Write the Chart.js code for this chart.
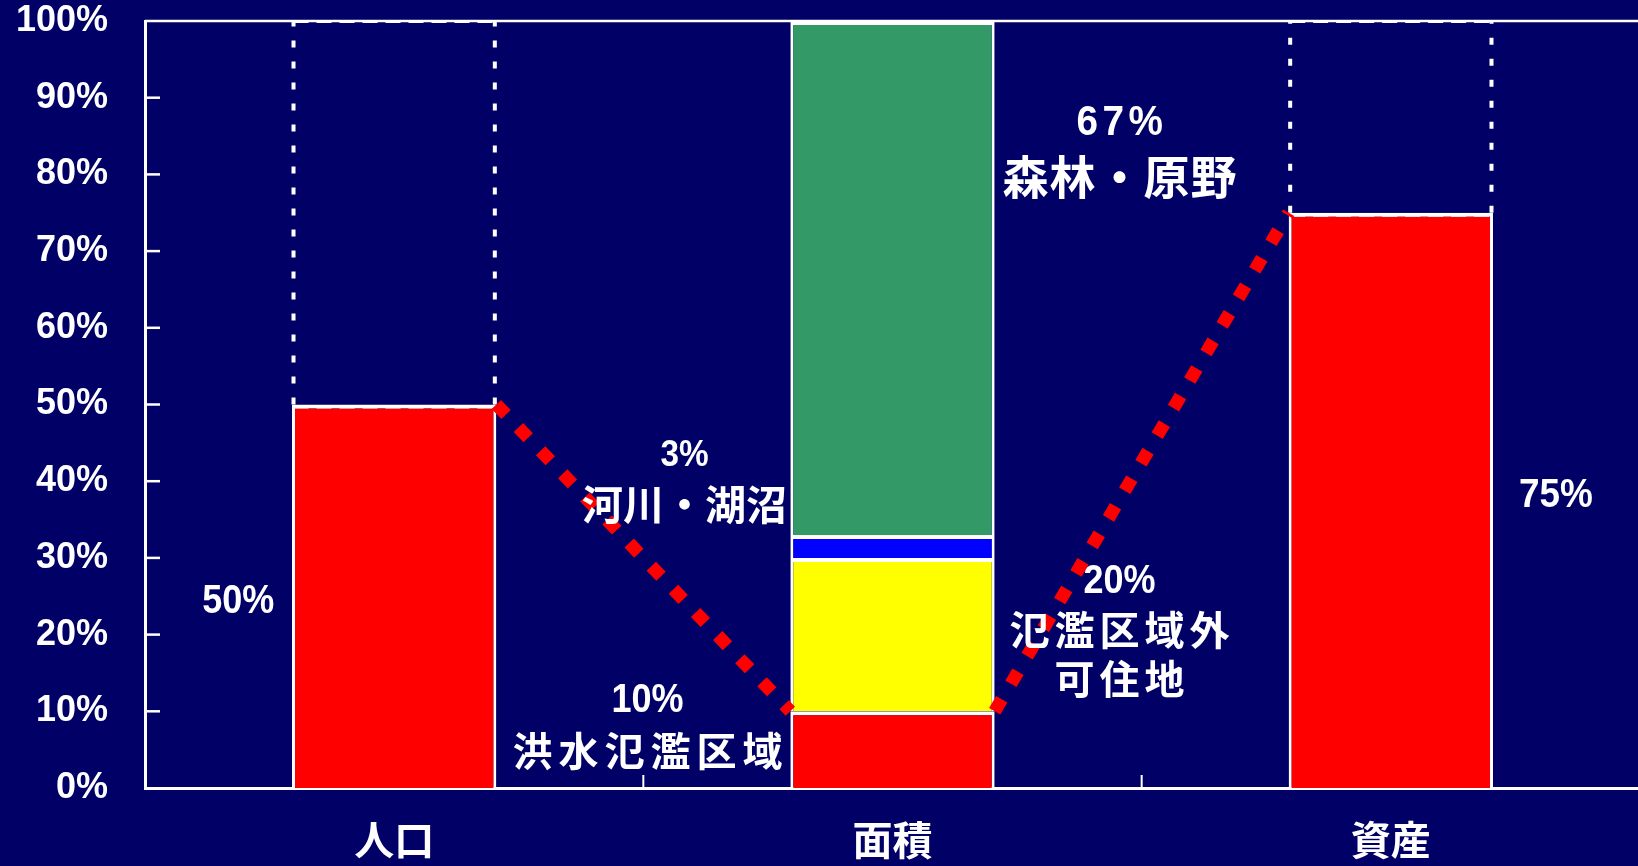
<!DOCTYPE html>
<html>
<head>
<meta charset="utf-8">
<script src="https://cdn.jsdelivr.net/npm/chart.js@4/dist/chart.umd.min.js"></script>
<style>
  html, body { margin: 0; padding: 0; background: #000066; overflow: hidden; }
  #wrap { position: relative; width: 1640px; height: 900px; margin-top: -34px; }
</style>
</head>
<body>
<div id="wrap"><canvas id="chart"></canvas></div>
<script>
// ---- data -------------------------------------------------------------
const categories  = ['人口', '面積', '資産'];
const floodZone   = [50, 10, 75];       // 洪水氾濫区域
const outsideZone = [null, 20, null];   // 氾濫区域外可住地
const waterBodies = [null, 3, null];    // 河川・湖沼
const forestLand  = [null, 67, null];   // 森林・原野
const remainder   = [50, null, 25];     // 区域外の残り（点線枠）
const yTickValues = [0, 10, 20, 30, 40, 50, 60, 70, 80, 90, 100];

const segmentNames = [
  ['洪水氾濫区域'],
  ['氾濫区域外', '可住地'],
  ['河川・湖沼'],
  ['森林・原野']
];

// ---- styling ----------------------------------------------------------
const NAVY = '#000066';
const WHITE = '#ffffff';
const DIGIT_FONT = '"Liberation Sans", Arial, sans-serif';
const CJK_FONT = '"Noto Sans CJK JP", "Noto Sans CJK SC", sans-serif';

const segBorder = { top: 4, left: 3, right: 3, bottom: 0 };

// callouts: which bar segment they describe, and where their text block sits
const callouts = [
  { ds: 0, idx: 0, dx: -156, yv: 24.3, num: 40, numSp: 0 },
  { ds: 0, idx: 2, dx: 165,  yv: 38.1, num: 41, numSp: 0 },
  { ds: 0, idx: 1, dx: -245, yv: 11.3, num: 40, numSp: 0, name: 40, nameSp: 6, gaps: [49] },
  { ds: 2, idx: 1, dx: -208, yv: 43.3, num: 37, numSp: 0, name: 41, nameSp: 0, gaps: [48.5] },
  { ds: 3, idx: 1, dx: 227,  yv: 86.7, num: 43, numSp: 5, name: 46, nameSp: 1, gaps: [54] },
  { ds: 1, idx: 1, dx: 227,  yv: 26.8, num: 40, numSp: 0, name: 40, nameSp: 5, gaps: [47.5, 49] }
];

function drawText(ctx, text, x, y, font, sx, spacing) {
  ctx.save();
  ctx.font = font;
  ctx.letterSpacing = spacing + 'px';
  ctx.translate(x + spacing / 2, y);
  ctx.scale(sx, 1);
  ctx.textAlign = 'center';
  ctx.textBaseline = 'middle';
  ctx.fillStyle = WHITE;
  ctx.fillText(text, 0, 0);
  ctx.restore();
}

const backdrop = {
  id: 'backdrop',
  beforeDraw(chart) {
    const ctx = chart.ctx;
    ctx.save();
    ctx.fillStyle = NAVY;
    ctx.fillRect(0, 0, chart.width, chart.height);
    ctx.restore();
  }
};

const overlay = {
  id: 'overlay',
  afterDatasetsDraw(chart) {
    const ctx = chart.ctx;
    const area = chart.chartArea;
    const y = chart.scales.y;
    const x = chart.scales.x;

    ctx.save();
    // frame top line and inward tick marks
    ctx.strokeStyle = WHITE;
    ctx.lineWidth = 2.5;
    ctx.beginPath();
    ctx.moveTo(area.left, area.top);
    ctx.lineTo(area.right, area.top);
    ctx.stroke();

    ctx.lineWidth = 2.5;
    y.ticks.forEach(t => {
      if (t.value <= 0 || t.value >= 100) return;
      const py = y.getPixelForValue(t.value);
      ctx.beginPath();
      ctx.moveTo(area.left, py);
      ctx.lineTo(area.left + 15, py);
      ctx.stroke();
    });
    ctx.lineWidth = 2;
    for (let i = 0; i < categories.length - 1; i++) {
      const px = (x.getPixelForValue(i) + x.getPixelForValue(i + 1)) / 2;
      ctx.beginPath();
      ctx.moveTo(px, area.bottom);
      ctx.lineTo(px, area.bottom - 13);
      ctx.stroke();
    }

    // dotted outlines around the remainder above the red bars
    const restMeta = chart.getDatasetMeta(4);
    restMeta.data.forEach((el, i) => {
      if (remainder[i] == null) return;
      const l = el.x - el.width / 2 + 1.5;
      const r = el.x + el.width / 2 - 1.5;
      ctx.strokeStyle = WHITE;
      ctx.lineWidth = 4;
      ctx.setLineDash([7, 14]);
      ctx.beginPath();
      ctx.moveTo(l, el.base); ctx.lineTo(l, el.y);
      ctx.moveTo(r, el.base); ctx.lineTo(r, el.y);
      ctx.stroke();
      ctx.lineWidth = 2;
      ctx.setLineDash([15, 8]);
      ctx.beginPath();
      ctx.moveTo(l, el.y + 1); ctx.lineTo(r, el.y + 1);
      ctx.moveTo(l, el.base + 3); ctx.lineTo(r, el.base + 3);
      ctx.stroke();
    });
    ctx.setLineDash([]);

    // red dotted connectors between the flood-zone shares
    const red = chart.getDatasetMeta(0).data;
    ctx.strokeStyle = '#ff0000';
    ctx.lineWidth = 13;
    ctx.lineCap = 'butt';
    ctx.setLineDash([14, 18]);
    for (let i = 0; i < red.length - 1; i++) {
      const a = red[i], b = red[i + 1];
      ctx.beginPath();
      ctx.moveTo(a.x + a.width / 2, a.y);
      ctx.lineTo(b.x - b.width / 2, b.y);
      ctx.stroke();
    }
    ctx.setLineDash([]);
    ctx.restore();

    // callout texts
    callouts.forEach(c => {
      const el = chart.getDatasetMeta(c.ds).data[c.idx];
      const value = chart.data.datasets[c.ds].data[c.idx];
      const cx = el.x + c.dx;
      let cy = y.getPixelForValue(c.yv);
      drawText(ctx, value + '%', cx, cy, 'bold ' + c.num + 'px ' + DIGIT_FONT, 0.9, c.numSp);
      if (c.name) {
        segmentNames[c.ds].forEach((line, k) => {
          cy += c.gaps[k];
          drawText(ctx, line, cx, cy, 'bold ' + c.name + 'px ' + CJK_FONT, 1, c.nameSp);
        });
      }
    });
  }
};

const barBase = {
  stack: 'share',
  borderColor: WHITE,
  borderWidth: segBorder,
  borderSkipped: false,
  categoryPercentage: 0.5,
  barPercentage: 0.82
};

new Chart(document.getElementById('chart'), {
  type: 'bar',
  data: {
    labels: categories,
    datasets: [
      Object.assign({ label: '洪水氾濫区域', data: floodZone, backgroundColor: '#ff0000' }, barBase),
      Object.assign({ label: '氾濫区域外可住地', data: outsideZone, backgroundColor: '#ffff00' }, barBase),
      Object.assign({ label: '河川・湖沼', data: waterBodies, backgroundColor: '#0000ff' }, barBase),
      Object.assign({ label: '森林・原野', data: forestLand, backgroundColor: '#339966' }, barBase),
      Object.assign({}, barBase, { label: '区域外', data: remainder, backgroundColor: 'rgba(0,0,0,0)', borderWidth: 0 })
    ]
  },
  options: {
    responsive: true,
    maintainAspectRatio: false,
    animation: false,
    layout: { padding: { top: 20, right: 0, bottom: 0, left: 0 } },
    plugins: { legend: { display: false }, tooltip: { enabled: false } },
    scales: {
      x: {
        stacked: true,
        grid: { display: false, drawTicks: false },
        border: { display: true, color: WHITE, width: 3 },
        ticks: {
          color: WHITE,
          padding: 32,
          font: { family: CJK_FONT, size: 40, weight: 'bold', lineHeight: 1 }
        },
        afterFit: s => { s.height = 78; }
      },
      y: {
        stacked: true,
        min: 0,
        max: 100,
        grid: { display: false, drawTicks: false },
        border: { display: true, color: WHITE, width: 3 },
        afterBuildTicks: s => { s.ticks = yTickValues.map(v => ({ value: v })); },
        ticks: {
          color: WHITE,
          padding: 37,
          callback: v => v + '%',
          font: { family: DIGIT_FONT, size: 36, weight: 'bold', lineHeight: 1 }
        },
        afterFit: s => { s.width = 145; }
      }
    }
  },
  plugins: [backdrop, overlay]
});
</script>
</body>
</html>
